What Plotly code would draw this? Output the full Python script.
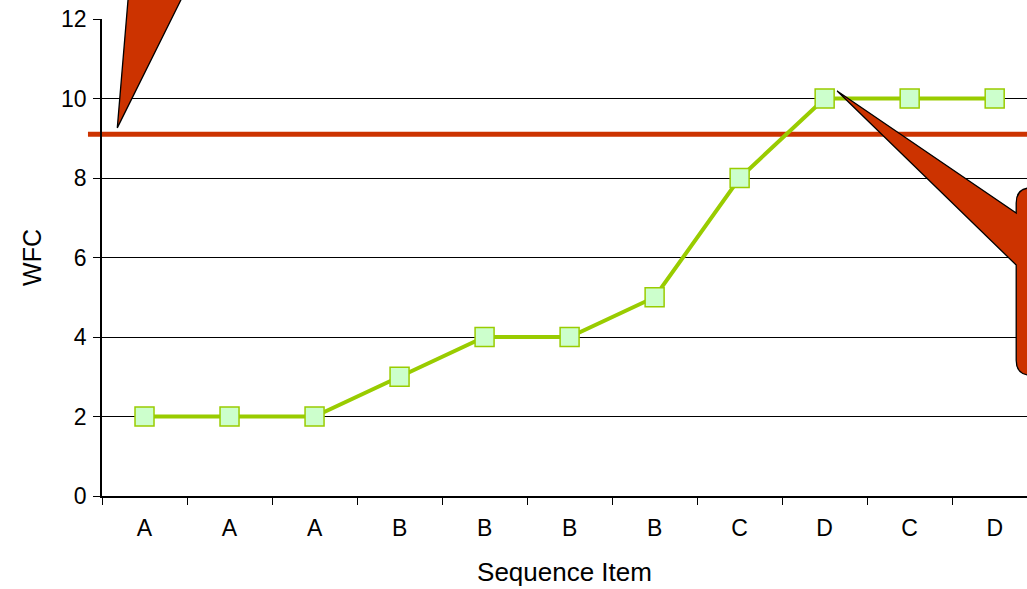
import plotly.graph_objects as go

# Sequence of items and the WFC value reached at each step
steps = list(range(1, 12))
item_labels = ["A", "A", "A", "B", "B", "B", "B", "C", "D", "C", "D"]
wfc_values = [2, 2, 2, 3, 4, 4, 5, 8, 10, 10, 10]
threshold = 9.1

# Canvas and axis geometry
W, H = 1027, 589
M_L, M_R, M_T, M_B = 102, 0, 19, 93
X_RANGE = [-0.5, 10.38]
Y_RANGE = [0, 12]


def to_paper(x, y):
    """Map (category index, value) to paper coordinates."""
    px = (x - X_RANGE[0]) / (X_RANGE[1] - X_RANGE[0])
    py = (y - Y_RANGE[0]) / (Y_RANGE[1] - Y_RANGE[0])
    return px, py


def path_from(points):
    parts = []
    for cmd, pts in points:
        coords = " ".join(f"{a:.5f},{b:.5f}" for a, b in (to_paper(*p) for p in pts))
        parts.append(f"{cmd}{coords}")
    return " ".join(parts) + " Z"


fig = go.Figure()
fig.add_trace(go.Scatter(
    x=steps, y=wfc_values, mode="lines+markers",
    line=dict(color="#99CC00", width=4),
    marker=dict(symbol="square", size=19, color="#CCFFCC",
                line=dict(color="#99CC00", width=1.5)),
    hoverinfo="skip", showlegend=False,
))

# Threshold line, running slightly left past the y axis
x_start = to_paper(-0.665, 0)[0]
fig.add_shape(type="line", xref="paper", yref="y",
              x0=x_start, x1=1, y0=threshold, y1=threshold,
              line=dict(color="#CC3300", width=5), layer="between")

callout_style = dict(type="path", xref="paper", yref="paper",
                     fillcolor="#CC3300", line=dict(color="black", width=1.3),
                     layer="above")

# Left callout pointer coming down from above the chart
left_path = path_from([
    ("M", [(-0.32, 9.26)]),
    ("L", [(-0.154, 13.5)]),
    ("L", [(0.665, 13.5)]),
])
fig.add_shape(path=left_path, **callout_style)

# Right speech bubble pointing at the first D peak
rx, ry = 15 / 85, 15 / 39.75
bx0, bx1 = 10.253, 10.9
by_top, by_bot = 7.75, 3.04
right_path = path_from([
    ("M", [(bx0 + rx, by_top)]),
    ("L", [(bx1, by_top)]),
    ("L", [(bx1, by_bot)]),
    ("L", [(bx0 + rx, by_bot)]),
    ("Q", [(bx0, by_bot), (bx0, by_bot + ry)]),
    ("L", [(bx0, 5.81)]),
    ("L", [(8.147, 10.19)]),
    ("L", [(bx0, 7.12)]),
    ("L", [(bx0, by_top - ry)]),
    ("Q", [(bx0, by_top), (bx0 + rx, by_top)]),
])
fig.add_shape(path=right_path, **callout_style)

font_family = "Liberation Sans, Arial, sans-serif"

fig.update_layout(
    width=W, height=H,
    margin=dict(l=M_L, r=M_R, t=M_T, b=M_B, pad=0),
    paper_bgcolor="white", plot_bgcolor="white",
    font=dict(family=font_family, color="black", size=21),
    xaxis=dict(
        type="category", range=X_RANGE,
        tickmode="array", tickvals=steps, ticktext=item_labels,
        tickson="boundaries", ticks="outside", ticklen=7, tickwidth=1.2,
        tickcolor="black", showgrid=False, zeroline=False,
        showline=True, linecolor="black", linewidth=1.5,
        tickfont=dict(family=font_family, size=23, color="black"),
        ticklabelstandoff=11,
        title=dict(text="Sequence Item", font=dict(size=26), standoff=22),
    ),
    yaxis=dict(
        range=Y_RANGE, dtick=2, tick0=0,
        ticks="outside", ticklen=7, tickwidth=1.2, tickcolor="black",
        showgrid=True, gridcolor="black", gridwidth=1.2,
        zeroline=False, showline=True, linecolor="black", linewidth=1.5,
        tickfont=dict(family=font_family, size=23, color="black"),
        ticklabelstandoff=2,
        title=dict(text="WFC", font=dict(size=25), standoff=12),
    ),
)

fig.write_html("out.html")
